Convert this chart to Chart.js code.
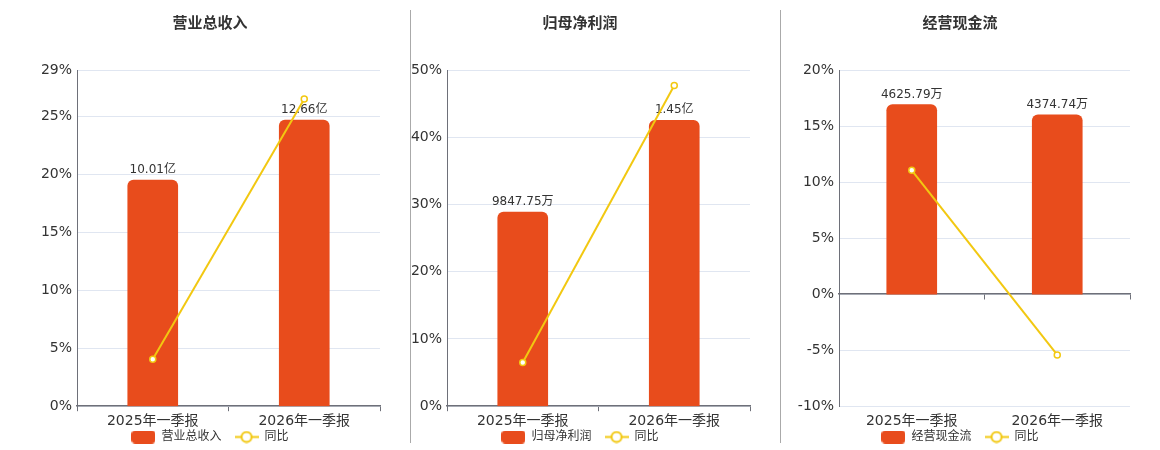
<!DOCTYPE html>
<html>
<head>
<meta charset="utf-8">
<script src="https://cdn.jsdelivr.net/npm/chart.js@4/dist/chart.umd.min.js"></script>
<style>
  html, body { margin: 0; padding: 0; background: #fff; overflow: hidden; }
  body { width: 1160px; height: 450px; position: relative; }
  canvas { position: absolute; top: 0; }
  .sep { position: absolute; top: 10px; height: 433px; width: 0; border-left: 1px solid #aaa; }
</style>
</head>
<body>
<canvas id="c1" width="360" height="467" style="left:40px"></canvas>
<canvas id="c2" width="350" height="467" style="left:410px"></canvas>
<canvas id="c3" width="350" height="467" style="left:790px"></canvas>
<div class="sep" style="left:410px"></div>
<div class="sep" style="left:780px"></div>
<script>
let categories = ['2025年一季报', '2026年一季报'];

// 营业总收入 (亿)
let revenue = [10.01, 12.66];
let revenueLabels = ['10.01亿', '12.66亿'];
let revenueYoy = [4.04, 26.49];
let revenueTicks = [0, 5, 10, 15, 20, 25, 29];

// 归母净利润 (亿)
let profit = [0.984775, 1.45];
let profitLabels = ['9847.75万', '1.45亿'];
let profitYoy = [6.5, 47.7];
let profitTicks = [0, 10, 20, 30, 40, 50];

// 经营现金流 (万)
let cash = [4625.79, 4374.74];
let cashLabels = ['4625.79万', '4374.74万'];
let cashYoy = [11.05, -5.43];
let cashTicks = [-10, -5, 0, 5, 10, 15, 20];

let barColor = '#E84C1C';
let lineColor = '#F2C811';
let axisColor = '#6E7079';
let gridColor = '#E0E6F1';
let textColor = '#333';

Chart.defaults.font.family = '"DejaVu Sans", "Noto Sans CJK SC", sans-serif';
Chart.defaults.color = textColor;

function makeBarIcon() {
  let c = document.createElement('canvas');
  c.width = 24; c.height = 13;
  let ctx = c.getContext('2d');
  ctx.fillStyle = barColor;
  ctx.beginPath();
  ctx.roundRect(0, 0, 24, 13, 4);
  ctx.fill();
  return c;
}

function makeLineIcon() {
  let c = document.createElement('canvas');
  c.width = 24; c.height = 13;
  let ctx = c.getContext('2d');
  ctx.strokeStyle = lineColor;
  ctx.lineWidth = 2;
  ctx.beginPath();
  ctx.moveTo(0, 6.5); ctx.lineTo(24, 6.5);
  ctx.stroke();
  ctx.fillStyle = '#fff';
  ctx.beginPath();
  ctx.arc(12, 6.5, 5, 0, Math.PI * 2);
  ctx.fill();
  ctx.stroke();
  return c;
}

let icons = [makeBarIcon(), makeLineIcon()];

let barLabelPlugin = {
  id: 'barLabels',
  afterDatasetDraw(chart, args, opts) {
    if (args.index !== 0) return;
    let ctx = chart.ctx;
    ctx.save();
    ctx.font = '12px ' + Chart.defaults.font.family;
    ctx.fillStyle = textColor;
    ctx.textAlign = 'center';
    ctx.textBaseline = 'middle';
    args.meta.data.forEach((bar, i) => {
      ctx.fillText(opts.labels[i], bar.x, bar.y - 10);
    });
    ctx.restore();
  }
};

// pull the legend up so it tucks under the category labels
let legendShift = {
  id: 'legendShift',
  afterLayout(chart) {
    chart.legend.top -= 14;
    chart.legend.bottom -= 14;
  }
};

function createChart(id, conf) {
  let zeroAxis = conf.barMin < 0;
  let scales = {
    x: {
      grid: {
        drawOnChartArea: false,
        tickLength: 5,
        color: zeroAxis ? 'transparent' : axisColor,
        offset: true,
      },
      border: { display: !zeroAxis, color: axisColor, width: 1.5 },
      ticks: { font: { size: 14 }, color: textColor, padding: 2 },
    },
    y: {
      min: conf.ticks[0],
      max: conf.ticks[conf.ticks.length - 1],
      afterBuildTicks: (scale) => { scale.ticks = conf.ticks.map(v => ({ value: v })); },
      grid: { color: gridColor, drawTicks: false },
      border: { color: axisColor, width: 1 },
      ticks: { font: { size: 14 }, color: textColor, padding: 5, callback: v => v + '%' },
      afterFit: (scale) => { scale.width = conf.axisWidth; },
    },
    y1: {
      display: false,
      min: conf.barMin,
      max: conf.barMax,
    },
  };
  if (zeroAxis) {
    // axis line + ticks sitting on 0%
    scales.x2 = {
      type: 'category',
      axis: 'x',
      position: { y: 0 },
      offset: true,
      grid: { drawOnChartArea: false, tickLength: 5, color: axisColor, offset: true },
      border: { color: axisColor, width: 1.5 },
      ticks: { display: false },
      afterFit: (scale) => { scale.height = 0; },
    };
  }

  return new Chart(document.getElementById(id), {
    type: 'bar',
    data: {
      labels: categories,
      datasets: [
        {
          label: conf.title,
          data: conf.bars,
          yAxisID: 'y1',
          backgroundColor: barColor,
          barThickness: 50,
          borderRadius: 6,
          order: 1,
        },
        {
          type: 'line',
          label: '同比',
          data: conf.yoy,
          yAxisID: 'y',
          borderColor: lineColor,
          borderWidth: 2,
          pointRadius: 3,
          pointBackgroundColor: '#fff',
          pointBorderColor: lineColor,
          pointBorderWidth: 1.5,
          order: 0,
        },
      ],
    },
    options: {
      responsive: false,
      animation: false,
      layout: { padding: { left: 0, right: conf.padRight, top: 0, bottom: 0 } },
      scales: scales,
      plugins: {
        title: {
          display: true,
          text: conf.title,
          color: textColor,
          font: { size: 15, weight: 'bold' },
          padding: { top: 15, bottom: 37 },
        },
        legend: {
          position: 'bottom',
          labels: {
            usePointStyle: true,
            pointStyleWidth: 24,
            padding: 13,
            font: { size: 12 },
            color: textColor,
            generateLabels: (chart) => chart.data.datasets.map((ds, i) => ({
              text: ds.label,
              pointStyle: icons[i],
              fillStyle: 'transparent',
              strokeStyle: 'transparent',
              lineWidth: 0,
              fontColor: textColor,
              datasetIndex: i,
            })),
          },
        },
        tooltip: { enabled: false },
        barLabels: { labels: conf.labels },
      },
    },
    plugins: [barLabelPlugin, legendShift],
  });
}

createChart('c1', {
  title: '营业总收入', bars: revenue, labels: revenueLabels, yoy: revenueYoy,
  ticks: revenueTicks, barMin: 0, barMax: 14.88, axisWidth: 37, padRight: 20,
});
createChart('c2', {
  title: '归母净利润', bars: profit, labels: profitLabels, yoy: profitYoy,
  ticks: profitTicks, barMin: 0, barMax: 1.705, axisWidth: 37, padRight: 10,
});
createChart('c3', {
  title: '经营现金流', bars: cash, labels: cashLabels, yoy: cashYoy,
  ticks: cashTicks, barMin: -2735, barMax: 5470, axisWidth: 49, padRight: 10,
});
</script>
</body>
</html>
